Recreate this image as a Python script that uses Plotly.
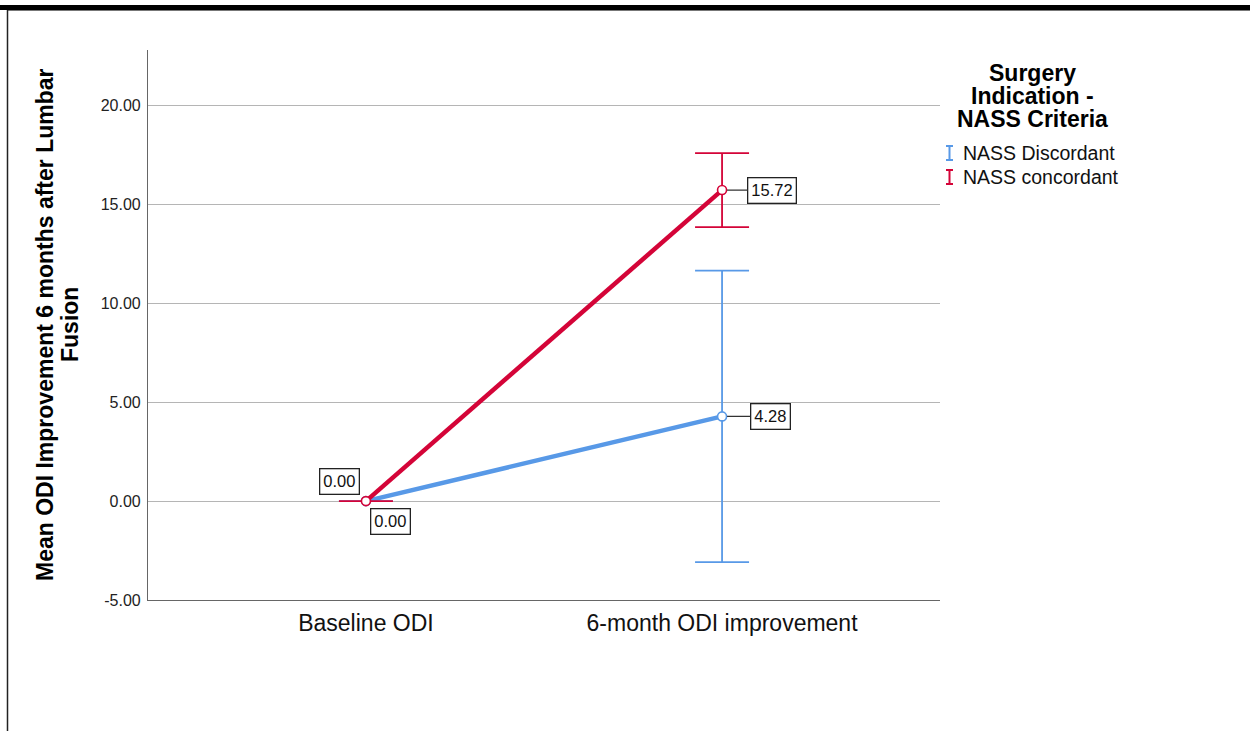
import plotly.graph_objects as go

# Mean ODI improvement by surgery indication (NASS criteria), with 95% CI
timepoints = ["Baseline ODI", "6-month ODI improvement"]
groups = ["NASS Discordant", "NASS concordant"]
discordant_mean = [0.00, 4.28]
discordant_ci = [0.00, 7.37]
concordant_mean = [0.00, 15.72]
concordant_ci = [0.00, 1.87]

y_ticks = [-5, 0, 5, 10, 15, 20]

BLUE = "rgb(88,153,231)"
RED = "rgb(212,4,56)"
FONT = "Liberation Sans"

W, H = 1250, 731
ML, MR, MT, MB = 148, 310, 50, 131
PW, PH = W - ML - MR, H - MT - MB


def px(x):
    return (x - ML) / PW


def py(y):
    return (H - MB - y) / PH


fig = go.Figure()

for name, mean, ci, color in [
    (groups[0], discordant_mean, discordant_ci, BLUE),
    (groups[1], concordant_mean, concordant_ci, RED),
]:
    fig.add_trace(go.Scatter(
        x=timepoints, y=mean, name=name, mode="lines+markers",
        line=dict(color=color, width=4.5),
        marker=dict(symbol="circle", size=9, color="white",
                    line=dict(color=color, width=1.6)),
        error_y=dict(type="data", array=ci, visible=True, color=color,
                     thickness=1.8, width=27),
        showlegend=False,
    ))

# value labels
label_style = dict(font=dict(family=FONT, size=16.5, color="#111"),
                   bgcolor="white", bordercolor="#222", borderwidth=1.3,
                   borderpad=3)
fig.add_annotation(x=timepoints[1], y=concordant_mean[1],
                   text=f"{concordant_mean[1]:.2f}", showarrow=True,
                   arrowhead=0, arrowwidth=1.2, arrowcolor="#333",
                   ax=50, ay=0, standoff=5, **label_style)
fig.add_annotation(x=timepoints[1], y=discordant_mean[1],
                   text=f"{discordant_mean[1]:.2f}", showarrow=True,
                   arrowhead=0, arrowwidth=1.2, arrowcolor="#333",
                   ax=48, ay=0, standoff=5, **label_style)
fig.add_annotation(x=timepoints[0], y=concordant_mean[0],
                   text=f"{concordant_mean[0]:.2f}", showarrow=False,
                   xshift=-26, yshift=20, **label_style)
fig.add_annotation(x=timepoints[0], y=discordant_mean[0],
                   text=f"{discordant_mean[0]:.2f}", showarrow=False,
                   xshift=25, yshift=-20, **label_style)

# y-axis title, two lines
for text, xc in [("Mean ODI Improvement 6 months after Lumbar", 45),
                 ("Fusion", 70)]:
    fig.add_annotation(xref="paper", yref="paper", x=px(xc), y=py(325),
                       text=f"<b>{text}</b>", textangle=-90, showarrow=False,
                       font=dict(family=FONT, size=23, color="black"),
                       xanchor="center", yanchor="middle")

# legend title
for text, yc in [("Surgery", 73), ("Indication -", 96), ("NASS Criteria", 119)]:
    fig.add_annotation(xref="paper", yref="paper", x=px(1032), y=py(yc),
                       text=f"<b>{text}</b>", showarrow=False,
                       font=dict(family=FONT, size=23, color="black"),
                       xanchor="center", yanchor="middle")

# legend entries with error-bar glyphs
shapes = []
for name, color, yc in [(groups[0], BLUE, 153), (groups[1], RED, 177)]:
    fig.add_annotation(xref="paper", yref="paper", x=px(961), y=py(yc),
                       text=name, showarrow=False,
                       font=dict(family=FONT, size=19.5, color="#111"),
                       xanchor="left", yanchor="middle")
    top, bot, xc = yc - 7, yc + 7, 949.5
    for x0, y0, x1, y1 in [(xc, top, xc, bot), (xc - 3.5, top, xc + 3.5, top),
                           (xc - 3.5, bot, xc + 3.5, bot)]:
        shapes.append(dict(type="line", xref="paper", yref="paper",
                           x0=px(x0), y0=py(y0), x1=px(x1), y1=py(y1),
                           line=dict(color=color, width=2)))

# page frame: heavy top rule and thin left rule
shapes += [
    dict(type="rect", xref="paper", yref="paper", x0=px(0), x1=px(W),
         y0=py(10), y1=py(5), fillcolor="black", line=dict(width=0),
         layer="above"),
    dict(type="line", xref="paper", yref="paper", x0=px(7), x1=px(W),
         y0=py(10.5), y1=py(10.5), line=dict(color="#777", width=1)),
    dict(type="line", xref="paper", yref="paper", x0=px(7.5), x1=px(7.5),
         y0=py(10), y1=py(H), line=dict(color="#222", width=1.5)),
]

fig.update_layout(
    width=W, height=H,
    margin=dict(l=ML, r=MR, t=MT, b=MB),
    paper_bgcolor="white", plot_bgcolor="white",
    font=dict(family=FONT),
    shapes=shapes,
    showlegend=False,
)
fig.update_xaxes(
    type="category", categoryarray=timepoints, range=[-0.612, 1.612],
    showgrid=False, showline=True, linecolor="#666", linewidth=1.2,
    ticks="", tickfont=dict(family=FONT, size=23, color="#111"),
    ticklabelstandoff=2,
)
fig.update_yaxes(
    range=[-5, 22.8], tickvals=y_ticks,
    ticktext=[f"{v:.2f}" for v in y_ticks],
    showgrid=True, gridcolor="#b5b5b5", gridwidth=1, zeroline=False,
    showline=True, linecolor="#666", linewidth=1.2,
    ticks="", tickfont=dict(family=FONT, size=16, color="#222"),
    ticklabelstandoff=3,
)

fig.write_html("out.html")
